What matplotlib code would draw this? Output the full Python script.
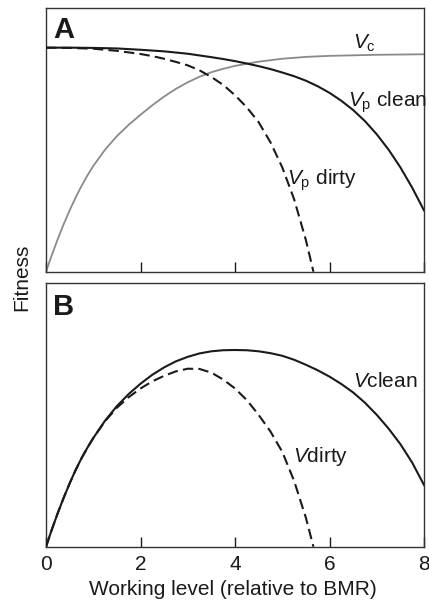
import matplotlib
matplotlib.use('Agg')
import matplotlib.pyplot as plt

# ---------------- data ----------------
# Panel A: components of fitness
x_vc = [0, 0.125, 0.25, 0.375, 0.5, 0.625, 0.75, 0.875, 1.0, 1.25, 1.5, 1.75,
        2.0, 2.25, 2.5, 2.75, 3.0, 3.25, 3.5, 3.75, 4.0, 4.5, 5.0, 5.5, 6.0,
        6.5, 7.0, 7.5, 8.0]
vc = [0.0, 0.064, 0.124, 0.180, 0.232, 0.280, 0.324, 0.364, 0.400, 0.462, 0.513,
      0.556, 0.594, 0.630, 0.663, 0.692, 0.717, 0.738, 0.755, 0.768, 0.779,
      0.795, 0.806, 0.813, 0.817, 0.819, 0.821, 0.822, 0.823]

x_vp_clean = [0, 0.5, 1.0, 1.5, 2.0, 2.5, 3.0, 3.5, 3.75, 4.0, 4.25, 4.5, 4.75,
              5.0, 5.25, 5.5, 5.75, 6.0, 6.25, 6.5, 6.75, 7.0, 7.25, 7.5, 7.75,
              8.0]
vp_clean = [0.848, 0.848, 0.847, 0.845, 0.840, 0.834, 0.825, 0.812, 0.805, 0.797,
            0.788, 0.778, 0.767, 0.754, 0.740, 0.723, 0.702, 0.677, 0.647, 0.612,
            0.570, 0.520, 0.462, 0.395, 0.318, 0.232]

x_vp_dirty = [0, 0.5, 1.0, 1.5, 2.0, 2.25, 2.5, 2.75, 3.0, 3.25, 3.5, 3.75, 4.0,
              4.25, 4.5, 4.75, 5.0, 5.25, 5.5, 5.66]
vp_dirty = [0.848, 0.847, 0.844, 0.836, 0.824, 0.816, 0.806, 0.794, 0.781, 0.762,
            0.737, 0.707, 0.668, 0.622, 0.566, 0.490, 0.395, 0.275, 0.120, 0.0]

# Panel B: overall fitness
x_v_clean = [0, 0.125, 0.25, 0.375, 0.5, 0.625, 0.75, 0.875, 1.0, 1.25, 1.5,
             1.75, 2.0, 2.25, 2.5, 2.75, 3.0, 3.25, 3.5, 3.75, 4.0, 4.25, 4.5,
             4.75, 5.0, 5.25, 5.5, 5.75, 6.0, 6.25, 6.5, 6.75, 7.0, 7.25, 7.5,
             7.75, 8.0]
v_clean = [0.0, 0.066, 0.128, 0.186, 0.240, 0.290, 0.335, 0.375, 0.412, 0.478,
           0.533, 0.579, 0.618, 0.652, 0.680, 0.703, 0.720, 0.733, 0.741, 0.745,
           0.746, 0.745, 0.741, 0.734, 0.724, 0.709, 0.690, 0.669, 0.645, 0.617,
           0.585, 0.546, 0.500, 0.448, 0.389, 0.319, 0.234]

x_v_dirty = [0, 0.125, 0.25, 0.375, 0.5, 0.625, 0.75, 0.875, 1.0, 1.25, 1.5,
             1.75, 2.0, 2.25, 2.5, 2.75, 3.0, 3.25, 3.5, 3.75, 4.0, 4.25, 4.5,
             4.75, 5.0, 5.25, 5.5, 5.66]
v_dirty = [0.0, 0.066, 0.128, 0.186, 0.240, 0.290, 0.335, 0.375, 0.412, 0.476,
           0.527, 0.567, 0.600, 0.627, 0.648, 0.665, 0.675, 0.674, 0.660, 0.634,
           0.600, 0.556, 0.500, 0.437, 0.360, 0.250, 0.110, 0.0]

xticks = [0, 2, 4, 6, 8]
xticklabels = ['0', '2', '4', '6', '8']

# ---------------- style ----------------
plt.rcParams['font.family'] = ['Liberation Sans', 'DejaVu Sans']
plt.rcParams['mathtext.fontset'] = 'custom'
plt.rcParams['mathtext.rm'] = 'Liberation Sans'
plt.rcParams['mathtext.it'] = 'Liberation Sans:italic'

W, H = 429, 603
fig = plt.figure(figsize=(W / 100, H / 100), dpi=100)
axA = fig.add_axes([46 / W, 1 - 271.7 / H, 378 / W, 264.2 / H])
axB = fig.add_axes([46 / W, 1 - 546.7 / H, 378 / W, 263.7 / H])

black = '#1a1a1a'
gray = '#8a8a8a'
dash = (0, (5, 2.5))

for ax in (axA, axB):
    ax.set_xlim(0, 8)
    ax.set_ylim(0, 1)
    ax.set_yticks([])
    ax.set_xticks(xticks)
    ax.set_xticklabels(xticklabels)
    ax.tick_params(axis='x', direction='in', length=7, width=1.0, pad=6,
                   labelsize=15, colors=black)
    for s in ax.spines.values():
        s.set_linewidth(1.0)
        s.set_color('#333333')

axA.tick_params(labelbottom=False)

# Panel A
axA.plot(x_vc, vc, color=gray, lw=1.3, zorder=2)
axA.plot(x_vp_dirty, vp_dirty, color=black, lw=1.5, linestyle=dash, zorder=3)
axA.plot(x_vp_clean, vp_clean, color=black, lw=1.5, zorder=4)

axA.text(6.50, 0.843, r'$V_\mathrm{c}$', fontsize=15, color=black,
         ha='left', va='baseline')
axA.text(6.39, 0.625, r'$V_\mathrm{p}$ clean', fontsize=15, color=black,
         ha='left', va='baseline')
axA.text(5.09, 0.328, r'$V_\mathrm{p}$ dirty', fontsize=15, color=black,
         ha='left', va='baseline')

# Panel B
axB.plot(x_v_dirty, v_dirty, color=black, lw=1.5, linestyle=dash, zorder=3)
axB.plot(x_v_clean, v_clean, color=black, lw=1.5, zorder=4)

axB.text(6.50, 0.607, r'$V$clean', fontsize=15, color=black,
         ha='left', va='baseline')
axB.text(5.23, 0.322, r'$V$dirty', fontsize=15, color=black,
         ha='left', va='baseline')

# Panel letters and labels
fig.text(53 / W, 1 - 38 / H, 'A', fontsize=21, fontweight='bold', color=black,
         ha='left', va='baseline')
fig.text(53 / W, 1 - 315 / H, 'B', fontsize=21, fontweight='bold', color=black,
         ha='left', va='baseline')
fig.text(22 / W, 1 - 277 / H, 'Fitness', rotation=90, fontsize=15, color=black,
         ha='center', va='center')
fig.text(232.5 / W, 1 - 595 / H, 'Working level (relative to BMR)', fontsize=15,
         color=black, ha='center', va='baseline')

fig.savefig('out.png', dpi=100)
